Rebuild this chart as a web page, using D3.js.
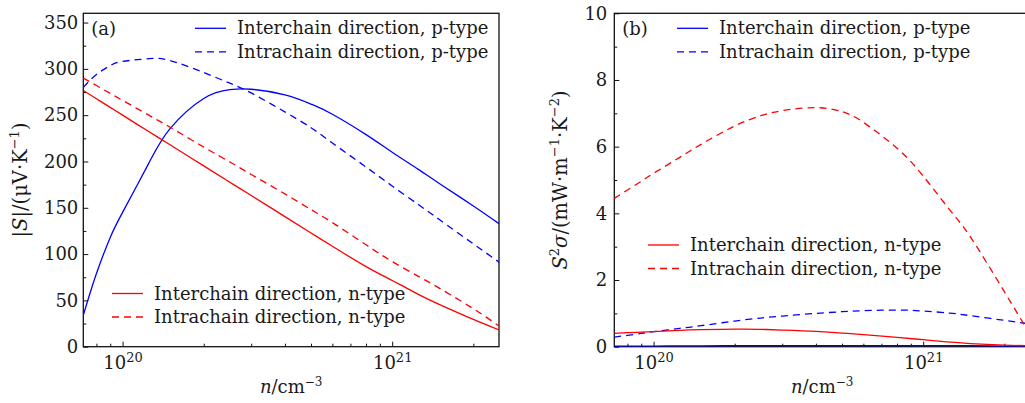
<!DOCTYPE html>
<html>
<head>
<meta charset="utf-8">
<script src="https://cdn.jsdelivr.net/npm/d3@7"></script>
<style>
  body { margin: 0; background: #fff; }
  text { font-family: "DejaVu Serif", serif; fill: #1a1a1a; }
</style>
</head>
<body>
<svg id="chart" width="1025" height="403"></svg>
<script>
// carrier concentration grid (cm^-3)
const nConc = [7.15e19, 8e19, 9e19, 1e20, 1.25e20, 1.5e20, 2e20, 2.5e20, 3e20, 4e20, 5e20, 6e20, 8e20, 1e21, 1.25e21, 1.5e21, 2e21, 2.5e21];

// (a) |S| in uV/K
const sInterP = [34, 79, 118, 145, 198, 235.5, 268, 277.5, 278, 272, 262, 251, 229, 210, 191.5, 176, 152, 132.5];
const sIntraP = [280, 294, 303.5, 308, 311, 309, 296, 284.5, 274, 253.5, 236.5, 220, 194, 173.5, 153.5, 137, 111, 91];
const sInterN = [276.6, 267.7, 258.4, 250, 232.3, 218, 195.2, 177.5, 163.2, 140.5, 122.8, 108.4, 86.5, 71.5, 56.5, 45.5, 29.5, 18];
const sIntraN = [290, 282, 273.5, 266, 250, 237, 215.5, 199.5, 186, 165, 148, 134, 110, 92, 76, 63, 41, 22];

// (b) S^2 sigma in mW m^-1 K^-2
const pfInterP = [0.02, 0.02, 0.02, 0.02, 0.025, 0.025, 0.03, 0.03, 0.03, 0.03, 0.03, 0.03, 0.03, 0.03, 0.03, 0.03, 0.02, 0.02];
const pfIntraP = [0.29, 0.34, 0.40, 0.45, 0.55, 0.63, 0.77, 0.86, 0.92, 1.00, 1.05, 1.08, 1.10, 1.07, 1.01, 0.93, 0.79, 0.68];
const pfInterN = [0.40, 0.42, 0.435, 0.45, 0.49, 0.51, 0.525, 0.52, 0.50, 0.46, 0.41, 0.36, 0.28, 0.21, 0.14, 0.09, 0.045, 0.03];
const pfIntraN = [4.45, 4.70, 4.96, 5.20, 5.68, 6.07, 6.62, 6.93, 7.08, 7.17, 7.05, 6.73, 5.95, 5.12, 4.12, 3.28, 1.65, 0.35];

const xMajor = [1e20, 1e21];
const xMinor = [8e19, 9e19, 2e20, 3e20, 4e20, 5e20, 6e20, 7e20, 8e20, 9e20, 2e21];

const legendP = ["Interchain direction, p-type", "Intrachain direction, p-type"];
const legendN = ["Interchain direction, n-type", "Intrachain direction, n-type"];

const BLUE = "#0000ff", RED = "#ff0000";
const plotTop = 13.3, plotBottom = 346.7, plotW = 415.7;

const svg = d3.select("#chart");
svg.append("rect").attr("width", 1025).attr("height", 403).attr("fill", "#fff");

function drawPanel(cfg) {
  const g = svg.append("g");
  const x = d3.scaleLog().domain([7.15e19, 2.49e21]).range([cfg.left, cfg.left + plotW]);
  const y = d3.scaleLinear().domain(cfg.yDomain).range([plotBottom, plotTop]);

  // y axis, inward ticks
  const ya = g.append("g").attr("transform", `translate(${cfg.left},0)`)
    .call(d3.axisLeft(y).tickValues(cfg.yTicks).tickSizeInner(-5).tickSizeOuter(0).tickPadding(cfg.yPad));
  g.append("g").attr("transform", `translate(${cfg.left},0)`)
    .call(d3.axisLeft(y).tickValues(cfg.yMinor).tickSizeInner(-3).tickSizeOuter(0).tickFormat(""));

  // x axis
  const xa = g.append("g").attr("transform", `translate(0,${plotBottom})`)
    .call(d3.axisBottom(x).tickValues(xMajor).tickSizeInner(-5).tickSizeOuter(0).tickPadding(14).tickFormat(""));
  g.append("g").attr("transform", `translate(0,${plotBottom})`)
    .call(d3.axisBottom(x).tickValues(xMinor).tickSizeInner(-3).tickSizeOuter(0).tickFormat(""));

  g.selectAll(".domain").remove();
  g.selectAll(".tick line").attr("stroke", "#111").attr("stroke-width", 1);
  ya.selectAll("text").style("font-size", "18px").attr("fill", "#1a1a1a");

  // 10^k labels
  xa.selectAll(".tick text").each(function(d) {
    const t = d3.select(this).attr("fill", "#1a1a1a").style("font-size", "18px").attr("y", 22).attr("dy", null);
    t.append("tspan").text("10");
    t.append("tspan").attr("dy", -7).style("font-size", "13px").text(Math.round(Math.log10(d)));
  });

  // frame
  g.append("rect").attr("x", cfg.left).attr("y", plotTop).attr("width", plotW).attr("height", plotBottom - plotTop)
    .attr("fill", "none").attr("stroke", "#111").attr("stroke-width", 1.3);

  // curves
  const clipId = "clip-" + cfg.id;
  svg.append("clipPath").attr("id", clipId).append("rect")
    .attr("x", cfg.left).attr("y", plotTop).attr("width", plotW).attr("height", plotBottom - plotTop);
  const line = d3.line().x((d, i) => x(nConc[i])).y(d => y(d)).curve(d3.curveNatural);
  cfg.series.forEach(s => {
    g.append("path").attr("clip-path", `url(#${clipId})`)
      .attr("d", line(s.values)).attr("fill", "none")
      .attr("stroke", s.color).attr("stroke-width", 1.3)
      .attr("stroke-dasharray", s.dash ? "7,5" : null);
  });

  // panel tag
  g.append("text").attr("x", cfg.left + 8).attr("y", 35).style("font-size", "18px").text(cfg.tag);

  // legends
  cfg.legends.forEach(lg => {
    lg.labels.forEach((lab, i) => {
      const ly = lg.y + i * 23.5;
      g.append("line").attr("x1", lg.x).attr("x2", lg.x + 31).attr("y1", ly).attr("y2", ly)
        .attr("stroke", lg.color).attr("stroke-width", 1.3)
        .attr("stroke-dasharray", i === 1 ? "7,5" : null);
      g.append("text").attr("x", lg.x + 42).attr("y", ly + 6).style("font-size", "18px").text(lab);
    });
  });

  // x title
  const xt = g.append("text").attr("x", cfg.left + plotW / 2).attr("y", 393)
    .attr("text-anchor", "middle").style("font-size", "18px");
  xt.append("tspan").style("font-style", "italic").text("n");
  xt.append("tspan").text("/cm");
  xt.append("tspan").attr("dy", -7).style("font-size", "12px").text("\u22123");

  // y title
  const yt = g.append("text").attr("transform", `translate(${cfg.yTitleX},180) rotate(-90)`)
    .attr("text-anchor", "middle").style("font-size", "19.5px");
  cfg.yTitle.forEach(p => {
    const ts = yt.append("tspan").text(p.t);
    if (p.i) ts.style("font-style", "italic");
    if (p.sup) ts.attr("dy", -8).style("font-size", "13px");
    if (p.down) ts.attr("dy", 8);
  });
}

drawPanel({
  id: "a", tag: "(a)", left: 83.3, yDomain: [0, 360], yPad: 5,
  yTicks: d3.range(0, 351, 50), yMinor: d3.range(25, 351, 50),
  yTitleX: 27,
  yTitle: [{t: "|"}, {t: "S", i: true}, {t: "|/(\u03bcV\u00b7K"}, {t: "\u22121", sup: true}, {t: ")", down: true}],
  series: [
    {values: sInterP, color: BLUE, dash: false},
    {values: sIntraP, color: BLUE, dash: true},
    {values: sInterN, color: RED, dash: false},
    {values: sIntraN, color: RED, dash: true}
  ],
  legends: [
    {x: 195, y: 28.3, color: BLUE, labels: legendP},
    {x: 112, y: 293.5, color: RED, labels: legendN}
  ]
});

drawPanel({
  id: "b", tag: "(b)", left: 614.3, yDomain: [0, 10], yPad: 7,
  yTicks: d3.range(0, 11, 2), yMinor: d3.range(1, 10, 2),
  yTitleX: 567,
  yTitle: [{t: "S", i: true}, {t: "2", sup: true}, {t: "\u03c3", i: true, down: true}, {t: "/(mW\u00b7m"}, {t: "\u22121", sup: true}, {t: "\u00b7K", down: true}, {t: "\u22122", sup: true}, {t: ")", down: true}],
  series: [
    {values: pfInterP, color: BLUE, dash: false},
    {values: pfIntraP, color: BLUE, dash: true},
    {values: pfInterN, color: RED, dash: false},
    {values: pfIntraN, color: RED, dash: true}
  ],
  legends: [
    {x: 677, y: 28.3, color: BLUE, labels: legendP},
    {x: 648, y: 245, color: RED, labels: legendN}
  ]
});
</script>
</body>
</html>
